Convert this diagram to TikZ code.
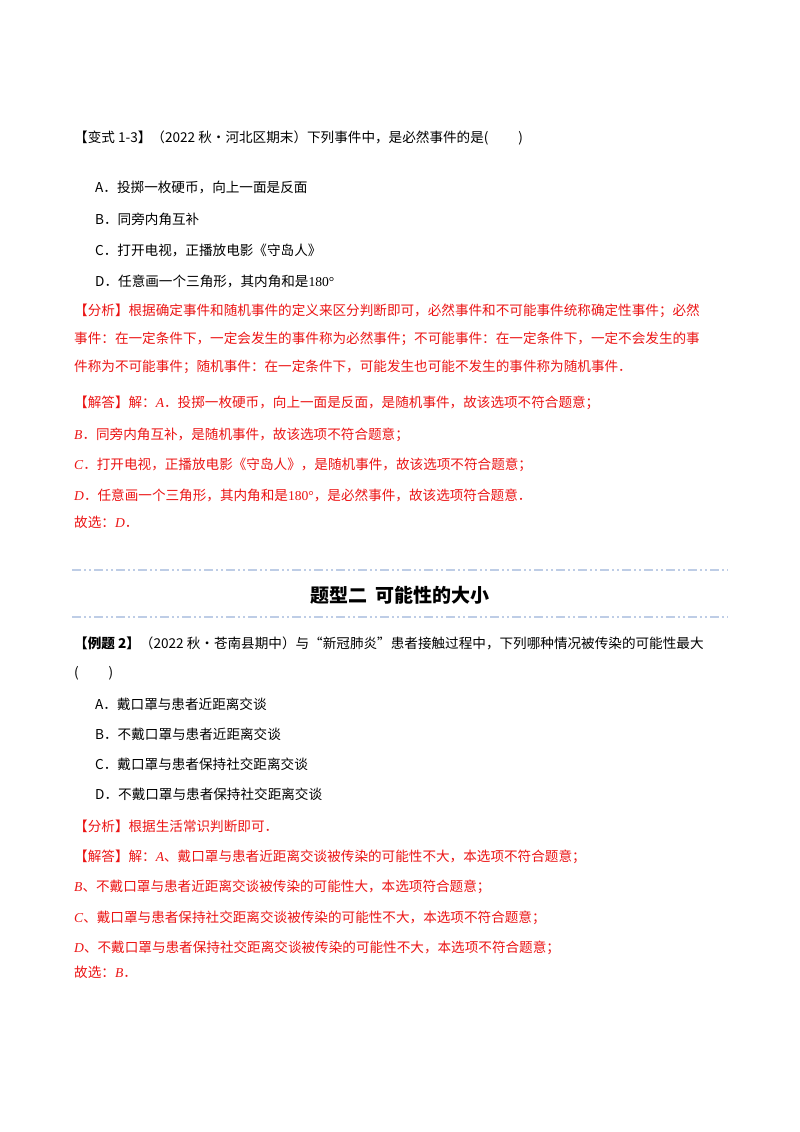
\documentclass[tikz,border=0pt]{standalone}
\usepackage{fontspec}
\setmainfont{Liberation Serif}
\newfontfamily\cjk{Noto Sans CJK SC}
\newcommand{\lat}[1]{{\rmfamily\itshape #1}}
\newcommand{\odeg}{{\rmfamily 180°}}
\definecolor{ansred}{RGB}{235,20,20}
\definecolor{divblue}{RGB}{190,205,230}
\begin{document}
\begin{tikzpicture}[x=1pt,y=-1pt,
  t/.style={anchor=west,inner sep=0pt,font=\cjk\fontsize{13.6}{16}\selectfont},
  r/.style={t,text=ansred},
  div/.style={divblue,line width=2pt,dash pattern=on 9pt off 3pt on 2pt off 3pt on 2pt off 3pt}]
\useasboundingbox (0,0) rectangle (800,1132);
\node[t] (h1) at (74,138) {【变式 1-3】（2022 秋•河北区期末）下列事件中，是必然事件的是(\hspace{2.2em})};
\node[t] (a1) at (95,188) {A．投掷一枚硬币，向上一面是反面};
\node[t] (b1) at (95,219) {B．同旁内角互补};
\node[t] (c1) at (95,250) {C．打开电视，正播放电影《守岛人》};
\node[t] (d1) at (95,281) {D．任意画一个三角形，其内角和是\odeg};
\node[r] (f1) at (74,311) {【分析】根据确定事件和随机事件的定义来区分判断即可，必然事件和不可能事件统称确定性事件；必然};
\node[r] (f2) at (74,339) {事件：在一定条件下，一定会发生的事件称为必然事件；不可能事件：在一定条件下，一定不会发生的事};
\node[r] (f3) at (74,367) {件称为不可能事件；随机事件：在一定条件下，可能发生也可能不发生的事件称为随机事件．};
\node[r] (j1) at (74,403) {【解答】解：\lat{A}．投掷一枚硬币，向上一面是反面，是随机事件，故该选项不符合题意；};
\node[r] (j2) at (74,435) {\lat{B}．同旁内角互补，是随机事件，故该选项不符合题意；};
\node[r] (j3) at (74,465) {\lat{C}．打开电视，正播放电影《守岛人》，是随机事件，故该选项不符合题意；};
\node[r] (j4) at (74,495) {\lat{D}．任意画一个三角形，其内角和是\odeg，是必然事件，故该选项符合题意．};
\node[r] (j5) at (74,522) {故选：\lat{D}．};
\draw[div] (72,570) -- (728,570);
\node[inner sep=0pt,font=\cjk\bfseries\fontsize{19}{22}\selectfont] (title) at (400,595) {题型二\ \ 可能性的大小};
\draw[div,line width=1.5pt] (72,617) -- (728,617);
\node[t] (h2) at (74,643) {\textbf{【例题 2】}（2022 秋•苍南县期中）与“新冠肺炎”患者接触过程中，下列哪种情况被传染的可能性最大};
\node[t] (p2) at (74,673) {(\hspace{2.2em})};
\node[t] (a2) at (95,704) {A．戴口罩与患者近距离交谈};
\node[t] (b2) at (95,734) {B．不戴口罩与患者近距离交谈};
\node[t] (c2) at (95,764) {C．戴口罩与患者保持社交距离交谈};
\node[t] (d2) at (95,794) {D．不戴口罩与患者保持社交距离交谈};
\node[r] (g1) at (74,826) {【分析】根据生活常识判断即可．};
\node[r] (k1) at (74,857) {【解答】解：\lat{A}、戴口罩与患者近距离交谈被传染的可能性不大，本选项不符合题意；};
\node[r] (k2) at (74,887) {\lat{B}、不戴口罩与患者近距离交谈被传染的可能性大，本选项符合题意；};
\node[r] (k3) at (74,918) {\lat{C}、戴口罩与患者保持社交距离交谈被传染的可能性不大，本选项不符合题意；};
\node[r] (k4) at (74,948) {\lat{D}、不戴口罩与患者保持社交距离交谈被传染的可能性不大，本选项不符合题意；};
\node[r] (k5) at (74,972) {故选：\lat{B}．};
\end{tikzpicture}
\end{document}
